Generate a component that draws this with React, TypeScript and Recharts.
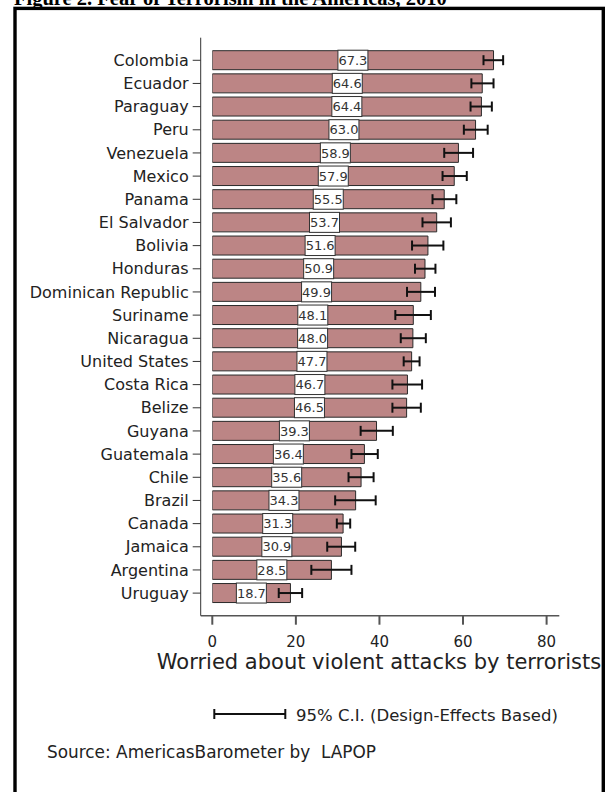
import React from 'react';
import { BarChart, Bar, XAxis, YAxis, ErrorBar, LabelList } from 'recharts';

const countries = [
  'Colombia', 'Ecuador', 'Paraguay', 'Peru', 'Venezuela', 'Mexico', 'Panama', 'El Salvador',
  'Bolivia', 'Honduras', 'Dominican Republic', 'Suriname', 'Nicaragua', 'United States',
  'Costa Rica', 'Belize', 'Guyana', 'Guatemala', 'Chile', 'Brazil', 'Canada', 'Jamaica',
  'Argentina', 'Uruguay',
];
const values = [
  67.3, 64.6, 64.4, 63.0, 58.9, 57.9, 55.5, 53.7, 51.6, 50.9, 49.9, 48.1, 48.0, 47.7, 46.7, 46.5,
  39.3, 36.4, 35.6, 34.3, 31.3, 30.9, 28.5, 18.7,
];
const ciLow = [
  64.9, 62.0, 61.8, 60.2, 55.5, 55.1, 52.7, 50.3, 47.8, 48.5, 46.6, 43.8, 45.1, 45.8, 43.1, 43.1,
  35.5, 33.3, 32.6, 29.4, 29.8, 27.5, 23.7, 15.9,
];
const ciHigh = [
  69.6, 67.3, 66.9, 65.9, 62.4, 60.9, 58.4, 57.1, 55.3, 53.4, 53.3, 52.3, 51.1, 49.6, 50.2, 49.9,
  43.2, 39.6, 38.6, 39.1, 33.0, 34.2, 33.3, 21.5,
];
const xTicks = [0, 20, 40, 60, 80];

const titleText = 'Figure 2. Fear of Terrorism in the Americas, 2010';
const axisTitle = 'Worried about violent attacks by terrorists';
const legendText = '95% C.I. (Design-Effects Based)';
const sourceText = 'Source: AmericasBarometer by  LAPOP';

const data = countries.map((c, i) => ({
  country: c,
  value: values[i],
  err: [values[i] - ciLow[i], ciHigh[i] - values[i]],
}));

const FONT = 'DejaVu Sans, Verdana, sans-serif';

const ValueLabel = (props: any) => {
  const { x, y, width, height, value } = props;
  const cx = Number(x) + Number(width) / 2;
  const yy = Number(y);
  const h = Number(height);
  return (
    <g>
      <rect x={cx - 15} y={yy - 0.5} width={30} height={h + 1} fill="#fff" stroke="#333" strokeWidth={1} />
      <text
        x={cx}
        y={yy + h / 2}
        dy="0.36em"
        textAnchor="middle"
        fontSize={13}
        fill="#333"
        fontFamily={FONT}
      >
        {Number(value).toFixed(1)}
      </text>
    </g>
  );
};

export default function App() {
  return (
    <div
      style={{
        position: 'absolute',
        left: 0,
        top: 0,
        width: 606,
        height: 792,
        overflow: 'hidden',
        background: '#fff',
      }}
    >
      <svg width={606} height={792} style={{ position: 'absolute', left: 0, top: 0 }}>
        <text
          x={14}
          y={4.5}
          fontFamily="Liberation Serif, Times New Roman, serif"
          fontWeight="bold"
          fontSize={20.5}
          fill="#000"
        >
          {titleText}
        </text>
        <rect x={15} y={8.4} width={588.3} height={900} fill="none" stroke="#000" strokeWidth={3.4} />
        <text x={379} y={668.5} textAnchor="middle" fontFamily={FONT} fontSize={21} fill="#222">
          {axisTitle}
        </text>
        <g stroke="#111" strokeWidth={2}>
          <line x1={214.3} y1={714} x2={285.3} y2={714} />
          <line x1={214.3} y1={709} x2={214.3} y2={719} />
          <line x1={285.3} y1={709} x2={285.3} y2={719} />
        </g>
        <text x={296} y={720.7} fontFamily={FONT} fontSize={16.5} fill="#222">
          {legendText}
        </text>
        <text x={47} y={758} fontFamily={FONT} fontSize={16.9} fill="#222" style={{ whiteSpace: 'pre' }}>
          {sourceText}
        </text>
      </svg>
      <div style={{ position: 'absolute', left: 0, top: 0 }}>
        <BarChart
          width={606}
          height={792}
          data={data}
          layout="vertical"
          margin={{ top: 37.7, right: 46.7, bottom: 116.3, left: 0.7 }}
          barSize={19}
        >
          <XAxis
            type="number"
            domain={[0, 80]}
            ticks={xTicks}
            padding={{ left: 11.6, right: 12.7 }}
            height={60}
            tickSize={9}
            tickMargin={12}
            axisLine={{ stroke: '#555', strokeWidth: 1.5 }}
            tickLine={{ stroke: '#555', strokeWidth: 2 }}
            tick={{ fontSize: 15, fill: '#222', fontFamily: FONT }}
            allowDataOverflow
          />
          <YAxis
            type="category"
            dataKey="country"
            width={200}
            interval={0}
            padding={{ top: 11, bottom: 11 }}
            tickSize={8}
            tickMargin={4}
            axisLine={{ stroke: '#333', strokeWidth: 1 }}
            tickLine={{ stroke: '#333', strokeWidth: 1 }}
            tick={{ fontSize: 16, fill: '#222', fontFamily: FONT }}
          />
          <Bar dataKey="value" fill="#BC8585" stroke="#2a2a2a" strokeWidth={1} isAnimationActive={false}>
            <LabelList dataKey="value" content={ValueLabel} />
            <ErrorBar dataKey="err" direction="x" width={5} strokeWidth={2} stroke="#111" />
          </Bar>
        </BarChart>
      </div>
    </div>
  );
}
